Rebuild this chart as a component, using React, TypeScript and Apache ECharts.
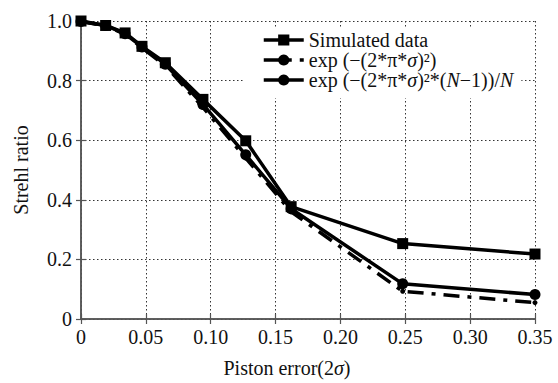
import React, { useEffect, useRef } from "react";
import * as echarts from "echarts";

const xValues = [0, 0.019, 0.034, 0.047, 0.065, 0.094, 0.127, 0.162, 0.248, 0.35];
const simulated = [1.0, 0.985, 0.96, 0.915, 0.86, 0.737, 0.598, 0.377, 0.253, 0.218];
const expTheory = [0.998, 0.984, 0.955, 0.91, 0.85, 0.71, 0.54, 0.36, 0.093, 0.055];
const expCorrected = [0.998, 0.985, 0.957, 0.913, 0.855, 0.72, 0.551, 0.37, 0.118, 0.082];
const seriesNames = ["Simulated data", "exp (−(2*π*σ)²)", "exp (−(2*π*σ)²*(N−1))/N"];

const FONT = "Liberation Serif";

function pairs(ys: number[]) {
  return xValues.map((x, i) => [x, ys[i]]);
}

export default function App() {
  const ref = useRef<HTMLDivElement>(null);
  useEffect(() => {
    if (!ref.current) return;
    const chart = echarts.init(ref.current, null, { renderer: "svg" });
    const axisLine = { show: true, lineStyle: { color: "#555", width: 1.5 } };
    const tick = { show: true, inside: true, length: 5, lineStyle: { color: "#555", width: 1.2 } };
    const italic = { fontFamily: FONT, fontSize: 20, fontStyle: "italic", color: "#111" };
    chart.setOption({
      animation: false,
      backgroundColor: "#fff",
      textStyle: { fontFamily: FONT },
      grid: { left: 81, right: 23, top: 21, bottom: 60, show: false },
      legend: {
        left: 245,
        top: 28,
        orient: "vertical",
        padding: [2, 8, 8, 17],
        backgroundColor: "#fff",
        itemWidth: 40,
        itemHeight: 14,
        itemGap: 0,
        data: seriesNames,
        lineStyle: { width: 3.5 },
        textStyle: {
          fontFamily: FONT,
          fontSize: 20,
          color: "#111",
          rich: { i: italic },
        },
        formatter: (name: string) => name.replace(/σ/g, "{i|σ}").replace(/N/g, "{i|N}"),
      },
      xAxis: [
        {
          type: "value",
          min: 0,
          max: 0.35,
          interval: 0.05,
          name: "Piston error(2{i|σ})",
          nameLocation: "middle",
          nameGap: 39,
          nameTextStyle: {
            fontFamily: FONT,
            fontSize: 20,
            color: "#111",
            padding: [0, 42, 0, 0],
            rich: { i: italic },
          },
          axisLine,
          axisTick: tick,
          axisLabel: {
            fontFamily: FONT,
            fontSize: 20,
            color: "#111",
            margin: 8,
            formatter: (v: number) => (v === 0 ? "0" : v.toFixed(2)),
          },
          splitLine: { show: true, lineStyle: { type: [1.5, 2.5], color: "#333", width: 1 } },
        },
        {
          type: "value",
          position: "top",
          min: 0,
          max: 0.35,
          interval: 0.05,
          axisLine,
          axisTick: tick,
          axisLabel: { show: false },
          splitLine: { show: false },
        },
      ],
      yAxis: [
        {
          type: "value",
          min: 0,
          max: 1,
          interval: 0.2,
          name: "Strehl ratio",
          nameLocation: "middle",
          nameGap: 50,
          nameTextStyle: { fontFamily: FONT, fontSize: 20, color: "#111" },
          axisLine,
          axisTick: tick,
          axisLabel: {
            fontFamily: FONT,
            fontSize: 20,
            color: "#111",
            margin: 9,
            formatter: (v: number) => (v === 0 ? "0" : v.toFixed(1)),
          },
          splitLine: { show: true, lineStyle: { type: [1.5, 2.5], color: "#333", width: 1 } },
        },
        {
          type: "value",
          position: "right",
          min: 0,
          max: 1,
          interval: 0.2,
          axisLine,
          axisTick: tick,
          axisLabel: { show: false },
          splitLine: { show: false },
        },
      ],
      series: [
        {
          name: seriesNames[0],
          type: "line",
          data: pairs(simulated),
          symbol: "rect",
          symbolSize: 11,
          itemStyle: { color: "#000" },
          lineStyle: { color: "#000", width: 3.5 },
          z: 3,
        },
        {
          name: seriesNames[1],
          type: "line",
          data: pairs(expTheory),
          symbol: "circle",
          symbolSize: 5,
          itemStyle: { color: "#000" },
          lineStyle: { color: "#000", width: 3.5, type: [16, 8, 4, 8] },
          z: 2,
        },
        {
          name: seriesNames[2],
          type: "line",
          data: pairs(expCorrected),
          symbol: "circle",
          symbolSize: 11,
          itemStyle: { color: "#000" },
          lineStyle: { color: "#000", width: 3.5 },
          z: 3,
        },
      ],
    });
    return () => chart.dispose();
  }, []);
  return <div ref={ref} style={{ width: 558, height: 383, position: "absolute", left: 0, top: 0 }} />;
}
